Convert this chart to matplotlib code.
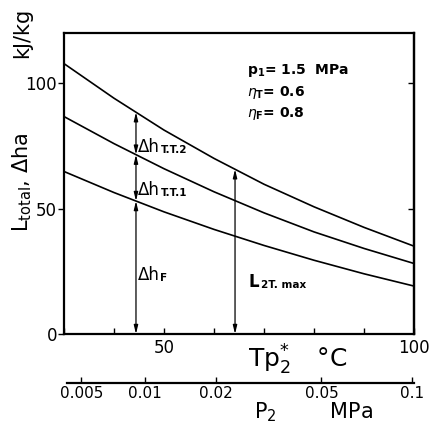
import numpy as np
import matplotlib
matplotlib.use("Agg")
import matplotlib.pyplot as plt

# saturation temperature Tp2* (degC) and curve values (kJ/kg)
temp = [30, 40, 50, 60, 70, 80, 90, 100]
dh_total2 = [107.8, 94.0, 81.3, 70.0, 59.7, 50.7, 42.5, 35.0]   # top curve
dh_total1 = [86.7, 75.9, 65.9, 56.7, 48.3, 40.7, 34.1, 28.1]    # middle curve
dh_fan = [64.8, 56.4, 48.7, 41.7, 35.3, 29.4, 24.0, 19.1]       # bottom curve

# secondary scale: pressure p2 (MPa) and its saturation temperature
p2_labels = ["0.005", "0.01", "0.02", "0.05", "0.1"]
p2_temp = [32.9, 45.8, 60.1, 81.3, 99.6]

t_arrow1 = 44.4
t_arrow2 = 64.2

fig = plt.figure(figsize=(4.35, 4.38), dpi=100)
ax = fig.add_axes([0.147, 0.2374, 0.805, 0.6873])

for vals in (dh_total2, dh_total1, dh_fan):
    ax.plot(temp, vals, color="black", lw=1.2)

ax.set_xlim(30, 100)
ax.set_ylim(0, 120)

# arrows
arr = dict(arrowstyle="<|-|>,head_length=0.5,head_width=0.12", color="black", lw=0.9,
           shrinkA=0, shrinkB=0)
y_f = np.interp(t_arrow1, temp, dh_fan)
y_1 = np.interp(t_arrow1, temp, dh_total1)
y_2 = np.interp(t_arrow1, temp, dh_total2)
ax.annotate("", xy=(t_arrow1, 0), xytext=(t_arrow1, y_f), arrowprops=arr)
ax.annotate("", xy=(t_arrow1, y_f), xytext=(t_arrow1, y_1), arrowprops=arr)
ax.annotate("", xy=(t_arrow1, y_1), xytext=(t_arrow1, y_2), arrowprops=arr)
y_top = np.interp(t_arrow2, temp, dh_total2)
ax.annotate("", xy=(t_arrow2, 0), xytext=(t_arrow2, y_top), arrowprops=arr)

# labels on the arrows: big symbol + small bold subscript
def arrow_label(x, y, main, sub):
    ax.text(x, y, main, fontsize=12, va="center")
    ax.text(x + 4.6, y - 1.2, sub, fontsize=7.5, fontweight="bold", va="center")

arrow_label(t_arrow1 + 0.3, 74.4, "Δh", "T.T.2")
arrow_label(t_arrow1 + 0.3, 57.3, "Δh", "T.T.1")
arrow_label(t_arrow1 + 0.3, 23.5, "Δh", "F")
ax.text(66.8, 20.7, "L", fontsize=12, fontweight="bold", va="center")
ax.text(69.3, 19.7, "2T. max", fontsize=7.5, fontweight="bold", va="center")

ax.text(66.6, 105, r"$\mathbf{p_1}$= 1.5  MPa", fontsize=10, fontweight="bold", va="center")
ax.text(66.6, 96.2, r"$\eta_{\mathbf{T}}$= 0.6", fontsize=10, fontweight="bold", va="center")
ax.text(66.6, 87.9, r"$\eta_{\mathbf{F}}$= 0.8", fontsize=10, fontweight="bold", va="center")

# ticks
ax.set_xticks(range(30, 101, 10))
ax.set_xticklabels(["", "", "50", "", "", "", "", "100"], fontsize=12)
ax.tick_params(axis="x", direction="in", length=4, width=1)
ax.set_yticks([0, 50, 100])
ax.set_yticklabels(["0", "50", "100"], fontsize=12)
ax.tick_params(axis="y", direction="out", length=4, width=1, pad=1)
right = ax.secondary_yaxis("right")
right.set_yticks([50, 100])
right.tick_params(direction="in", length=4, width=1, labelright=False)
right.spines["right"].set_linewidth(1.6)
for s in ax.spines.values():
    s.set_linewidth(1.6)

fig.text(0.685, 0.178, r"T$\mathrm{p}_2^{\!*}$   °C", fontsize=18, ha="center", va="center")

# pressure scale
ax2 = fig.add_axes([0.154, 0.1256, 0.798, 0.0001])
ax2.set_xlim(30, 100)
ax2.set_yticks([])
for side in ("top", "left", "right"):
    ax2.spines[side].set_visible(False)
ax2.spines["bottom"].set_linewidth(1.6)
ax2.set_xticks(p2_temp)
ax2.set_xticklabels(p2_labels, fontsize=11)
ax2.tick_params(axis="x", direction="in", length=4, width=1, pad=2)
fig.text(0.72, 0.058, r"P$_2$        MPa", fontsize=15, ha="center", va="center")

fig.text(0.05, 0.925, "kJ/kg", rotation=90, fontsize=15, ha="center", va="center")
fig.text(0.05, 0.585, r"L$_{\rm total}$, $\Delta$ha", rotation=90, fontsize=15,
         ha="center", va="center")

fig.savefig("out.png", dpi=100)
